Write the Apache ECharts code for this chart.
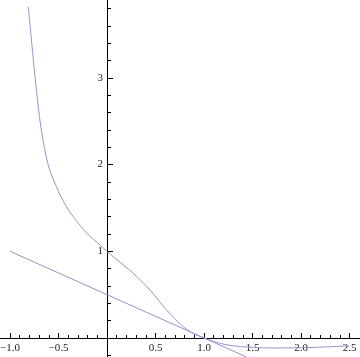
<!DOCTYPE html>
<html>
<head>
<meta charset="utf-8">
<script src="https://cdn.jsdelivr.net/npm/echarts@6/dist/echarts.min.js"></script>
<style>
html,body{margin:0;padding:0;background:#fff;}
#chart{width:360px;height:357px;}
</style>
</head>
<body>
<div id="chart"></div>
<script>
const curveX = [-0.811, -0.78, -0.75, -0.72, -0.69, -0.65, -0.60, -0.55, -0.50, -0.45, -0.40, -0.30, -0.20, -0.10, 0.00, 0.10, 0.271, 0.443, 0.615, 0.787, 0.90, 1.00, 1.10, 1.20, 1.30, 1.45, 1.70, 2.00, 2.25, 2.50];
const curveY = [3.82, 3.45, 3.10, 2.78, 2.50, 2.22, 1.97, 1.82, 1.69, 1.58, 1.48, 1.33, 1.20, 1.10, 1.00, 0.905, 0.746, 0.554, 0.323, 0.130, 0.045, 0.00, -0.04, -0.07, -0.09, -0.105, -0.115, -0.112, -0.103, -0.09];
const tangentX = [-1.0, 1.44];
const tangentY = [1.0, -0.22];
const xMajorTicks = [-1.0, -0.5, 0.5, 1.0, 1.5, 2.0, 2.5];
const xMinorTicks = [-1.0, -0.9, -0.8, -0.7, -0.6, -0.5, -0.4, -0.3, -0.2, -0.1, 0.1, 0.2, 0.3, 0.4, 0.5, 0.6, 0.7, 0.8, 0.9, 1.0, 1.1, 1.2, 1.3, 1.4, 1.5, 1.6, 1.7, 1.8, 1.9, 2.0, 2.1, 2.2, 2.3, 2.4, 2.5];
const yMajorTicks = [1, 2, 3];
const yMinorTicks = [-0.2, 0.2, 0.4, 0.6, 0.8, 1.0, 1.2, 1.4, 1.6, 1.8, 2.0, 2.2, 2.4, 2.6, 2.8, 3.0, 3.2, 3.4, 3.6, 3.8];

const X_MIN = -1.103, X_MAX = 2.608, Y_MIN = -0.219, Y_MAX = 3.898;
const W = 360, H = 357;
const lineColor = '#9494c8';
const fontFam = '"Liberation Serif", "DejaVu Serif", serif';
// axes cross at the origin: move them from the grid edges to the zero position
const yAxisOffset = -Math.round((0 - X_MIN) / (X_MAX - X_MIN) * W);
const xAxisOffset = -Math.round((0 - Y_MIN) / (Y_MAX - Y_MIN) * H);

function fmtX(v){ const s = Math.abs(v).toFixed(1); return v < 0 ? '\u2212' + s : s; }

const chart = echarts.init(document.getElementById('chart'), null, {renderer:'canvas'});
chart.setOption({
  animation: false,
  grid: {left: 0, right: 0, top: 0, bottom: 0, containLabel: false,
         outerBounds: {left: -200, right: -200, top: -200, bottom: -200}},
  xAxis: [
    {
      type: 'value', min: X_MIN, max: X_MAX, position: 'bottom', offset: xAxisOffset,
      axisLine: {show: true, onZero: false, lineStyle: {color: '#000', width: 1}},
      axisTick: {show: true, inside: true, length: 5, customValues: xMajorTicks, lineStyle: {color: '#000'}},
      axisLabel: {show: true, customValues: xMajorTicks, formatter: fmtX, margin: 5, color: '#222', fontSize: 11, fontFamily: fontFam},
      splitLine: {show: false}
    },
    {
      type: 'value', min: X_MIN, max: X_MAX, position: 'bottom', offset: xAxisOffset,
      axisLine: {show: false, onZero: false},
      axisTick: {show: true, inside: true, length: 3, customValues: xMinorTicks, lineStyle: {color: '#000'}},
      axisLabel: {show: false},
      splitLine: {show: false}
    }
  ],
  yAxis: [
    {
      type: 'value', min: Y_MIN, max: Y_MAX, position: 'left', offset: yAxisOffset,
      axisLine: {show: true, onZero: false, lineStyle: {color: '#000', width: 1}},
      axisTick: {show: true, inside: true, length: 6, customValues: yMajorTicks, lineStyle: {color: '#000'}},
      axisLabel: {show: true, customValues: yMajorTicks, margin: 4, color: '#222', fontSize: 11, fontFamily: fontFam},
      splitLine: {show: false}
    },
    {
      type: 'value', min: Y_MIN, max: Y_MAX, position: 'left', offset: yAxisOffset,
      axisLine: {show: false, onZero: false},
      axisTick: {show: true, inside: true, length: 4, customValues: yMinorTicks, lineStyle: {color: '#000'}},
      axisLabel: {show: false},
      splitLine: {show: false}
    }
  ],
  series: [
    {
      type: 'line', xAxisIndex: 0, yAxisIndex: 0,
      data: curveX.map((x, i) => [x, curveY[i]]),
      smooth: 0.3, showSymbol: false, symbol: 'none',
      lineStyle: {color: lineColor, width: 1}
    },
    {
      type: 'line', xAxisIndex: 0, yAxisIndex: 0,
      data: tangentX.map((x, i) => [x, tangentY[i]]),
      showSymbol: false, symbol: 'none',
      lineStyle: {color: lineColor, width: 1}
    }
  ]
});
</script>
</body>
</html>
